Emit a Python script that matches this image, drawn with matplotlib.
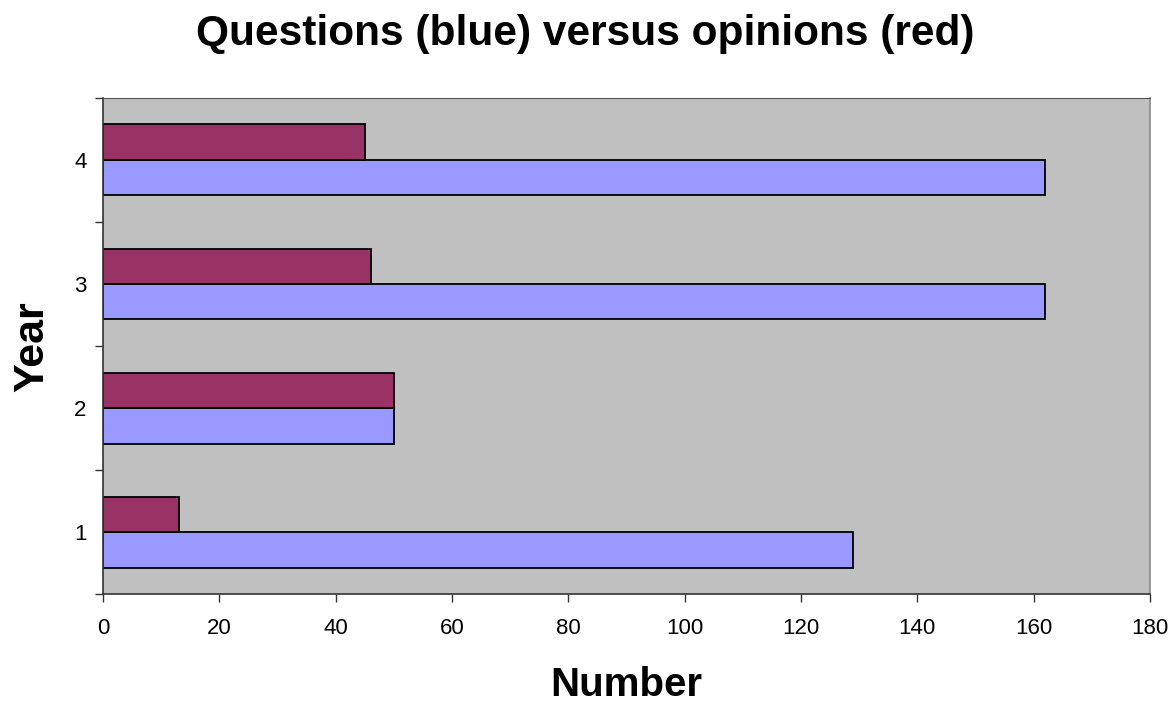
import numpy as np
import matplotlib
matplotlib.use("Agg")
import matplotlib.pyplot as plt

years = [1, 2, 3, 4]
questions = [129, 50, 162, 162]   # blue
opinions = [13, 50, 46, 45]       # red

plt.rcParams['font.family'] = ['Liberation Sans', 'DejaVu Sans']

fig = plt.figure(figsize=(11.71, 7.04), dpi=100)
ax = fig.add_axes([0.088, 0.156, 0.894, 0.705])
ax.set_facecolor('#C0C0C0')

y = np.array(years)
w = 0.2857
ax.barh(y - w / 2, questions, height=w, color='#9999FF', edgecolor='black', linewidth=1.3)
ax.barh(y + w / 2, opinions, height=w, color='#993366', edgecolor='black', linewidth=1.3)

ax.set_xlim(0, 180)
ax.set_ylim(0.5, 4.5)
ax.set_xticks(range(0, 181, 20))
ax.set_yticks(years)
ax.set_yticks(np.arange(0.5, 4.6, 1), minor=True)
ax.tick_params(axis='y', which='major', length=0, pad=12, labelsize=16)
ax.tick_params(axis='y', which='minor', length=6, width=1, color='#333333')
ax.tick_params(axis='x', length=6, width=1, color='#333333', pad=11, labelsize=16)

for s in ['left', 'bottom']:
    ax.spines[s].set_color('#333333')
    ax.spines[s].set_linewidth(1.2)
ax.spines['top'].set_color('#555555')
ax.spines['right'].set_color('#888888')
ax.spines['right'].set_linewidth(1.2)

fig.text(0.5, 0.952, 'Questions (blue) versus opinions (red)', fontsize=30.5,
         fontweight='bold', ha='center', va='center')
fig.text(0.535, 0.011, 'Number', fontsize=29, fontweight='bold', ha='center', va='baseline')
fig.text(0.028, 0.508, 'Year', fontsize=31, fontweight='bold', ha='center', va='center',
         rotation=90)

fig.savefig('out.png', dpi=100)
